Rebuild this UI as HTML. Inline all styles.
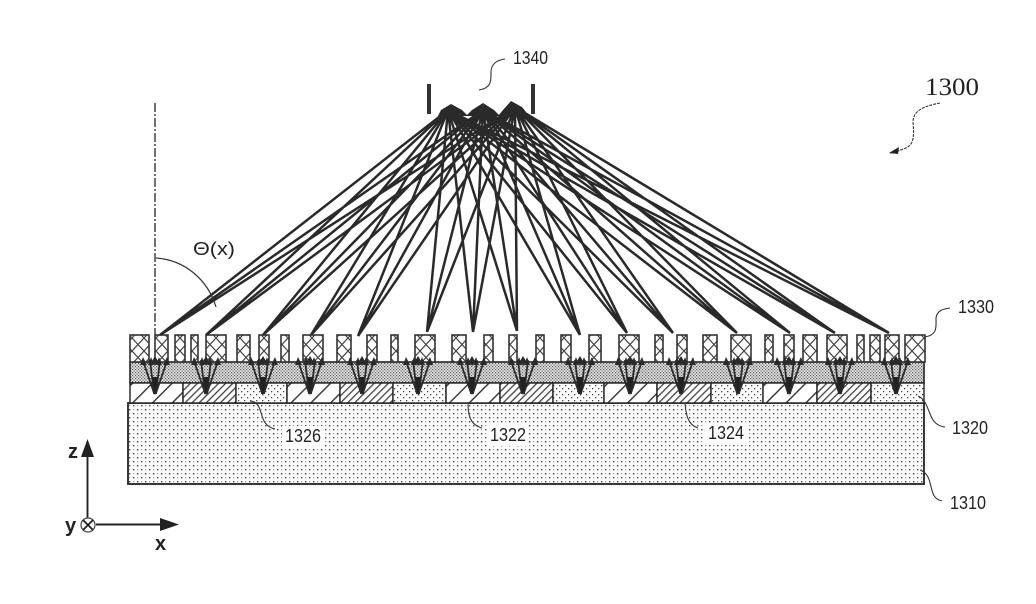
<!DOCTYPE html>
<html><head><meta charset="utf-8"><style>
html,body{margin:0;padding:0;background:#fff}
svg{display:block}
text{font-family:"Liberation Sans",sans-serif;fill:#222}
</style></head><body>
<svg width="1036" height="604" viewBox="0 0 1036 604" xmlns="http://www.w3.org/2000/svg">
<defs>
<pattern id="sparse" width="8" height="8" patternUnits="userSpaceOnUse">
<rect width="8" height="8" fill="#fff"/>
<rect x="1" y="1" width="1.400" height="1.400" fill="#444"/><rect x="5" y="5" width="1.400" height="1.400" fill="#444"/>
<rect x="5" y="1" width="1.200" height="1.200" fill="#999"/><rect x="1" y="5" width="1.200" height="1.200" fill="#999"/>
</pattern>
<pattern id="dots2" width="6" height="6" patternUnits="userSpaceOnUse">
<rect width="6" height="6" fill="#fff"/>
<rect x="1" y="1" width="1.300" height="1.300" fill="#444"/><rect x="4" y="4" width="1.300" height="1.300" fill="#444"/>
</pattern>
<pattern id="dense" width="3" height="3" patternUnits="userSpaceOnUse">
<rect width="3" height="3" fill="#e6e6e6"/>
<rect x="0" y="0" width="1.200" height="1.200" fill="#5a5a5a"/><rect x="1.500" y="1.500" width="1.200" height="1.200" fill="#5a5a5a"/>
</pattern>
<pattern id="wide" width="14" height="14" patternUnits="userSpaceOnUse" patternTransform="rotate(45)">
<rect width="14" height="14" fill="#fff"/><rect width="1.400" height="14" fill="#333"/>
</pattern>
<pattern id="narrow" width="5" height="5" patternUnits="userSpaceOnUse" patternTransform="rotate(45)">
<rect width="5" height="5" fill="#fff"/><rect width="1.300" height="5" fill="#444"/>
</pattern>
<pattern id="cross" width="12" height="13" patternUnits="userSpaceOnUse">
<rect width="12" height="13" fill="#fff"/>
<path d="M0 0L12 13M12 0L0 13" stroke="#444" stroke-width="1.200"/>
</pattern>
<g id="v" fill="none" stroke="#2a2a2a">
<path d="M-12 -33L-1 -1M12 -33L1 -1M-5 -34L-1 0M5 -34L1 0" stroke-width="1.800"/>
<path d="M-3 -17L0 2L3 -17Z" fill="#222" stroke="none"/>
<path d="M-15 -29L-12 -37L-8 -29ZM-7 -29L-4 -37L-1 -29ZM1 -29L4 -37L7 -29ZM8 -29L12 -37L15 -29Z" fill="#2a2a2a" stroke="none"/>
<path d="M-3 -33L0 -38L3 -33L0 -28Z" fill="#2a2a2a" stroke="none"/>
</g>
</defs>

<!-- substrate -->
<rect x="128" y="403" width="796" height="81" fill="url(#sparse)" stroke="#222" stroke-width="1.800"/>
<!-- layer 1 -->
<rect x="130" y="362" width="794" height="21" fill="url(#dense)" stroke="#222" stroke-width="1.600"/>
<!-- layer 2 -->
<g stroke="#222" stroke-width="1.400">
<rect x="130" y="383" width="53" height="20" fill="url(#wide)"/>
<rect x="183" y="383" width="53" height="20" fill="url(#narrow)"/>
<rect x="236" y="383" width="51" height="20" fill="url(#dots2)"/>
<rect x="287" y="383" width="53" height="20" fill="url(#wide)"/>
<rect x="340" y="383" width="53" height="20" fill="url(#narrow)"/>
<rect x="393" y="383" width="53" height="20" fill="url(#dots2)"/>
<rect x="446" y="383" width="54" height="20" fill="url(#wide)"/>
<rect x="500" y="383" width="53" height="20" fill="url(#narrow)"/>
<rect x="553" y="383" width="51" height="20" fill="url(#dots2)"/>
<rect x="604" y="383" width="53" height="20" fill="url(#wide)"/>
<rect x="657" y="383" width="54" height="20" fill="url(#narrow)"/>
<rect x="711" y="383" width="52" height="20" fill="url(#dots2)"/>
<rect x="763" y="383" width="54" height="20" fill="url(#wide)"/>
<rect x="817" y="383" width="54" height="20" fill="url(#narrow)"/>
<rect x="871" y="383" width="53" height="20" fill="url(#dots2)"/>
</g>

<!-- pillars -->
<g fill="url(#cross)" stroke="#333" stroke-width="1.600">
<rect x="130" y="335" width="19" height="27"/><rect x="155" y="335" width="13" height="27"/>
<rect x="175" y="335" width="10" height="27"/><rect x="191" y="335" width="7" height="27"/>
<rect x="206" y="335" width="20" height="27"/><rect x="237" y="335" width="13" height="27"/>
<rect x="259" y="335" width="10" height="27"/><rect x="281" y="335" width="8" height="27"/>
<rect x="303" y="335" width="20" height="27"/><rect x="337" y="335" width="14" height="27"/>
<rect x="367" y="335" width="10" height="27"/><rect x="391" y="335" width="7" height="27"/>
<rect x="415" y="335" width="20" height="27"/><rect x="452" y="335" width="14" height="27"/>
<rect x="484" y="335" width="9" height="27"/><rect x="509" y="335" width="8" height="27"/>
<rect x="536" y="335" width="8" height="27"/><rect x="561" y="335" width="10" height="27"/>
<rect x="589" y="335" width="12" height="27"/><rect x="619" y="335" width="20" height="27"/>
<rect x="655" y="335" width="8" height="27"/><rect x="677" y="335" width="10" height="27"/>
<rect x="703" y="335" width="14" height="27"/><rect x="731" y="335" width="20" height="27"/>
<rect x="765" y="335" width="8" height="27"/><rect x="784" y="335" width="10" height="27"/>
<rect x="803" y="335" width="14" height="27"/><rect x="827" y="335" width="20" height="27"/>
<rect x="857" y="335" width="7" height="27"/><rect x="870" y="335" width="10" height="27"/>
<rect x="885" y="335" width="14" height="27"/><rect x="905" y="335" width="20" height="27"/>
</g>

<!-- V arrows -->
<use href="#v" x="155" y="394"/><use href="#v" x="206" y="394"/><use href="#v" x="263" y="394"/>
<use href="#v" x="310" y="394"/><use href="#v" x="362" y="394"/><use href="#v" x="418" y="394"/>
<use href="#v" x="472" y="394"/><use href="#v" x="523" y="394"/><use href="#v" x="580" y="394"/>
<use href="#v" x="630" y="394"/><use href="#v" x="681" y="394"/><use href="#v" x="738" y="394"/>
<use href="#v" x="789" y="394"/><use href="#v" x="840" y="394"/><use href="#v" x="896" y="394"/>

<!-- rays -->
<path fill="none" stroke="#2a2a2a" stroke-width="2.500" d="
M448 110L160 335M483 110L160 335M515 107L160 335
M448 110L206 335M483 110L206 335M515 107L206 335
M448 110L263 335M483 110L263 335M515 107L263 335
M448 110L311 335M483 110L311 335M515 107L311 335
M448 110L358 336M483 110L358 336M515 107L358 336
M448 110L427 332M483 110L427 332M515 107L427 332
M448 110L473 332M483 110L473 332M515 107L473 332
M448 110L517 331M483 110L517 331M515 107L517 331
M448 110L580 335M483 110L580 335M515 107L580 335
M448 110L627 333M483 110L627 333M515 107L627 333
M448 110L673 333M483 110L673 333M515 107L673 333
M448 110L737 333M483 110L737 333M515 107L737 333
M448 110L790 333M483 110L790 333M515 107L790 333
M448 110L835 333M483 110L835 333M515 107L835 333
M448 110L889 333M483 110L889 333M515 107L889 333"/>
<!-- focal blobs -->
<path d="M441 110L451 104L462 110L468 116L438 116ZM472 110L483 103L494 110L500 116L466 116ZM503 110L511 101L522 107L526 112L520 116L498 116Z" fill="#2a2a2a"/>
<!-- slits -->
<rect x="427" y="84" width="4" height="30" fill="#333"/>
<rect x="531" y="84" width="4" height="30" fill="#333"/>

<!-- angle -->
<path d="M155 103V335" fill="none" stroke="#333" stroke-width="1.400" stroke-dasharray="9 2 2 2"/>
<path d="M156 258C185 260 208 280 216 307" fill="none" stroke="#333" stroke-width="1.200"/>
<text x="193" y="255" font-size="18" textLength="42" lengthAdjust="spacingAndGlyphs">Θ(x)</text>

<!-- leaders -->
<g fill="none" stroke="#333" stroke-width="1.100">
<path d="M479 90C492 88 491 80 491 72C491 64 497 60 505 59"/>
<path d="M925 337C938 335 936 326 936 318C937 311 942 309 950 308"/>
<path d="M918 396C932 402 926 425 945 427"/>
<path d="M920 470C936 476 926 498 942 501"/>
<path d="M250 401C266 402 256 425 275 429"/>
<path d="M468 403C468 415 470 425 482 428"/>
<path d="M685 403C686 415 688 425 698 428"/>
<path d="M940 103C925 106 913 110 913 122C914 135 915 146 903 149C899 151 896 152 890 153" stroke-dasharray="3 1"/>
</g>
<path d="M889 153L899 147L898 154Z" fill="#222"/>

<!-- labels -->
<g font-size="18">
<rect x="282" y="426" width="42" height="21" fill="#fff"/>
<rect x="487" y="425" width="42" height="21" fill="#fff"/>
<rect x="705" y="423" width="42" height="21" fill="#fff"/>
<text x="513" y="64" textLength="35" lengthAdjust="spacingAndGlyphs">1340</text>
<text x="958" y="313" textLength="36" lengthAdjust="spacingAndGlyphs">1330</text>
<text x="952" y="434" textLength="36" lengthAdjust="spacingAndGlyphs">1320</text>
<text x="950" y="509" textLength="36" lengthAdjust="spacingAndGlyphs">1310</text>
<text x="285" y="442" textLength="36" lengthAdjust="spacingAndGlyphs">1326</text>
<text x="490" y="441" textLength="36" lengthAdjust="spacingAndGlyphs">1322</text>
<text x="708" y="439" textLength="36" lengthAdjust="spacingAndGlyphs">1324</text>
</g>
<text x="925" y="95" font-size="25" textLength="54" lengthAdjust="spacingAndGlyphs" style="font-family:'Liberation Serif',serif">1300</text>

<!-- axes -->
<g fill="none" stroke="#222" stroke-width="1.900">
<path d="M87.500 452V518"/>
<path d="M96 524.500H165"/>
</g>
<circle cx="88" cy="525" r="7" fill="#fff" stroke="#444" stroke-width="1.200"/>
<path d="M83 520L93 530M93 520L83 530" stroke="#222" stroke-width="1.800"/>
<path d="M87.500 439L94 457H81Z" fill="#222"/>
<path d="M179 524.500L160 518V531Z" fill="#222"/>
<g font-size="20" font-weight="bold" fill="#111">
<text x="68" y="458">z</text>
<text x="65" y="532">y</text>
<text x="155" y="550">x</text>
</g>
</svg>
</body></html>
